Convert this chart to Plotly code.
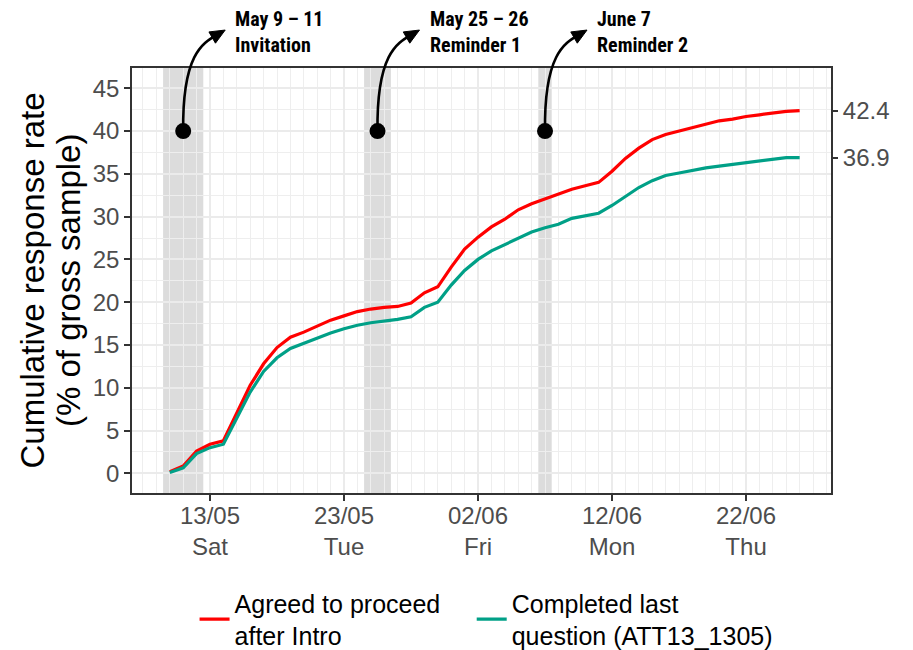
import math
import pandas as pd
import plotly.graph_objects as go

# ---------------- data ----------------
dates = pd.date_range("2023-05-10", "2023-06-26", freq="D")
agreed = [0.2, 0.85, 2.6, 3.4, 3.8, 7.1, 10.3, 12.8, 14.7, 15.9, 16.5, 17.2, 17.9, 18.4, 18.9, 19.2,
          19.4, 19.5, 19.9, 21.1, 21.8, 24.1,
          26.2, 27.6, 28.8, 29.7, 30.8, 31.5, 32.1, 32.6, 33.2, 33.6, 34.0, 35.3, 36.8, 38.0, 39.0,
          39.6, 40.0, 40.4, 40.8, 41.2, 41.4, 41.7, 41.9, 42.1, 42.3, 42.4]
completed = [0.1, 0.65, 2.3, 3.0, 3.4, 6.4, 9.5, 11.9, 13.5, 14.6, 15.2, 15.8, 16.4, 16.9, 17.3, 17.6,
             17.8, 18.0, 18.3, 19.4, 20.0, 22.0,
             23.7, 25.0, 26.0, 26.7, 27.5, 28.2, 28.7, 29.1, 29.8, 30.1, 30.4, 31.3, 32.4, 33.4, 34.2,
             34.8, 35.1, 35.4, 35.7, 35.9, 36.1, 36.3, 36.5, 36.7, 36.9, 36.9]
series_names = ["Agreed to proceed<br>after Intro", "Completed last<br>question (ATT13_1305)"]
series_colors = ["#FF0000", "#00A087"]
y_title_lines = ["Cumulative response rate", "(% of gross sample)"]

event_start = ["2023-05-10", "2023-05-25", "2023-06-07"]
event_end = ["2023-05-12", "2023-05-26", "2023-06-07"]
event_labels = ["May 9 – 11<br>Invitation", "May 25 – 26<br>Reminder 1", "June 7<br>Reminder 2"]
marker_level = 40

# ---------------- layout geometry ----------------
# page body has an 8px margin, so the figure is drawn 8px in from the window corner
W, H = 905, 642
ML, MR, MT, MB = 124, 82, 60, 157
PW, PH = W - ML - MR, H - MT - MB
X0 = pd.Timestamp("2023-05-13") - pd.Timedelta(days=5.82)
X1 = pd.Timestamp("2023-05-13") + pd.Timedelta(days=46.34)
Y0, Y1 = -2.3, 47.37


def to_px(d, v):
    fx = (pd.Timestamp(d) - X0) / (X1 - X0)
    fy = (v - Y0) / (Y1 - Y0)
    return ML + fx * PW, MT + (1 - fy) * PH


def to_paper(px, py):
    return (px - ML) / PW, (MT + PH - py) / PH


half = pd.Timedelta(hours=12)
starts = [pd.Timestamp(s) for s in event_start]
ends = [pd.Timestamp(e) for e in event_end]
mids = [s + (e - s) / 2 for s, e in zip(starts, ends)]

fig = go.Figure()

# shaded event periods
for s, e in zip(starts, ends):
    fig.add_vrect(x0=s - half, x1=e + half, fillcolor="#DCDCDC", line_width=0, layer="below")

for i, (name, vals, col) in enumerate(zip(series_names, [agreed, completed], series_colors)):
    fig.add_trace(go.Scatter(x=dates, y=vals, mode="lines", name=name,
                             legend="legend" if i == 0 else "legend2",
                             line=dict(color=col, width=3.2), hoverinfo="skip"))

# event dots
fig.add_trace(go.Scatter(x=mids, y=[marker_level] * len(mids), mode="markers",
                         marker=dict(color="black", size=16), showlegend=False,
                         cliponaxis=False, hoverinfo="skip"))

# invisible trace for right axis (final values)
fig.add_trace(go.Scatter(x=[dates[-1], dates[-1]], y=[agreed[-1], completed[-1]], mode="markers",
                         marker=dict(opacity=0), yaxis="y2", showlegend=False, hoverinfo="skip"))

# curved arrows + labels
theta = math.radians(30)
ux, uy = math.cos(theta), -math.sin(theta)
for m, lab in zip(mids, event_labels):
    dx, dy = to_px(m, marker_level)
    tx, ty = dx + 42, dy - 101
    ex, ey = tx - 9 * ux, ty - 9 * uy
    p1 = (dx - 1, dy - 78)
    p2 = (tx - 25 * ux, ty - 25 * uy)
    pts = [to_paper(dx, dy), to_paper(*p1), to_paper(*p2), to_paper(ex, ey)]
    path = "M {:.5f},{:.5f} C {:.5f},{:.5f} {:.5f},{:.5f} {:.5f},{:.5f}".format(
        *[c for p in pts for c in p])
    fig.add_shape(type="path", path=path, xref="paper", yref="paper",
                  line=dict(color="black", width=2.6))
    bx, by = tx - 15 * ux, ty - 15 * uy
    nx, ny = -uy, ux
    c1 = (bx + 6.5 * nx, by + 6.5 * ny)
    c2 = (bx - 6.5 * nx, by - 6.5 * ny)
    tri = [to_paper(tx, ty), to_paper(*c1), to_paper(*c2)]
    fig.add_shape(type="path", xref="paper", yref="paper",
                  path="M {:.5f},{:.5f} L {:.5f},{:.5f} L {:.5f},{:.5f} Z".format(*[c for p in tri for c in p]),
                  fillcolor="black", line=dict(color="black", width=1))
    fig.add_annotation(x=m, y=marker_level, xref="x", yref="y", text="<b>" + lab + "</b>",
                       showarrow=False, xanchor="left", yanchor="middle", align="left",
                       xshift=51, yshift=dy - 24, borderpad=0,
                       font=dict(family="Liberation Sans Narrow, Roboto Condensed, Roboto",
                                 size=20, color="black"))

# y-axis title, two rotated lines
for i, line in enumerate(y_title_lines):
    fig.add_annotation(x=0, y=0.5, xref="paper", yref="paper", text=line, textangle=-90,
                       showarrow=False, xanchor="center", yanchor="middle",
                       xshift=[24, 60.5][i] - ML,
                       font=dict(family="Liberation Sans, Arial", size=33, color="black"))

axis_font = dict(family="Liberation Sans, Arial", size=24, color="#4D4D4D")
legend_common = dict(orientation="h", xanchor="left", y=-0.205, yanchor="top",
                     font=dict(size=25, color="black"), itemwidth=30,
                     bgcolor="rgba(0,0,0,0)")
fig.update_layout(
    width=W, height=H,
    margin=dict(l=ML, r=MR, t=MT, b=MB, autoexpand=False),
    paper_bgcolor="white", plot_bgcolor="white",
    font=dict(family="Liberation Sans, Arial", color="black"),
    showlegend=True,
    legend=dict(x=0.0895, **legend_common),
    legend2=dict(x=0.486, **legend_common),
    xaxis=dict(type="date", range=[X0, X1], tickmode="linear", tick0="2023-05-13",
               dtick=10 * 86400000, tickformat="%d/%m<br>%a", tickfont=axis_font,
               ticks="outside", ticklen=6, tickwidth=1.5, tickcolor="#333333",
               ticklabelstandoff=-6,
               showgrid=True, gridcolor="#EBEBEB", gridwidth=1.6,
               minor=dict(tickmode="linear", tick0="2023-05-13", dtick=86400000,
                          showgrid=True, gridcolor="#EEEEEE", gridwidth=1),
               showline=True, linecolor="#333333", linewidth=1.6, mirror=True,
               zeroline=False),
    yaxis=dict(range=[Y0, Y1], tickmode="linear", tick0=0, dtick=5, tickfont=axis_font,
               ticks="outside", ticklen=6, tickwidth=1.5, tickcolor="#333333",
               showgrid=True, gridcolor="#EBEBEB", gridwidth=1.6,
               minor=dict(tickmode="linear", tick0=0, dtick=2.5, showgrid=True,
                          gridcolor="#EEEEEE", gridwidth=1),
               showline=True, linecolor="#333333", linewidth=1.6, mirror=True, zeroline=False),
    yaxis2=dict(overlaying="y", side="right", range=[Y0, Y1], tickmode="array",
                tickvals=[agreed[-1], completed[-1]],
                ticktext=["{:.1f}".format(agreed[-1]), "{:.1f}".format(completed[-1])],
                tickfont=axis_font, ticks="outside", ticklen=6, tickwidth=1.5,
                tickcolor="#333333", showgrid=False, showline=False, zeroline=False),
)

fig.write_html("out.html")
